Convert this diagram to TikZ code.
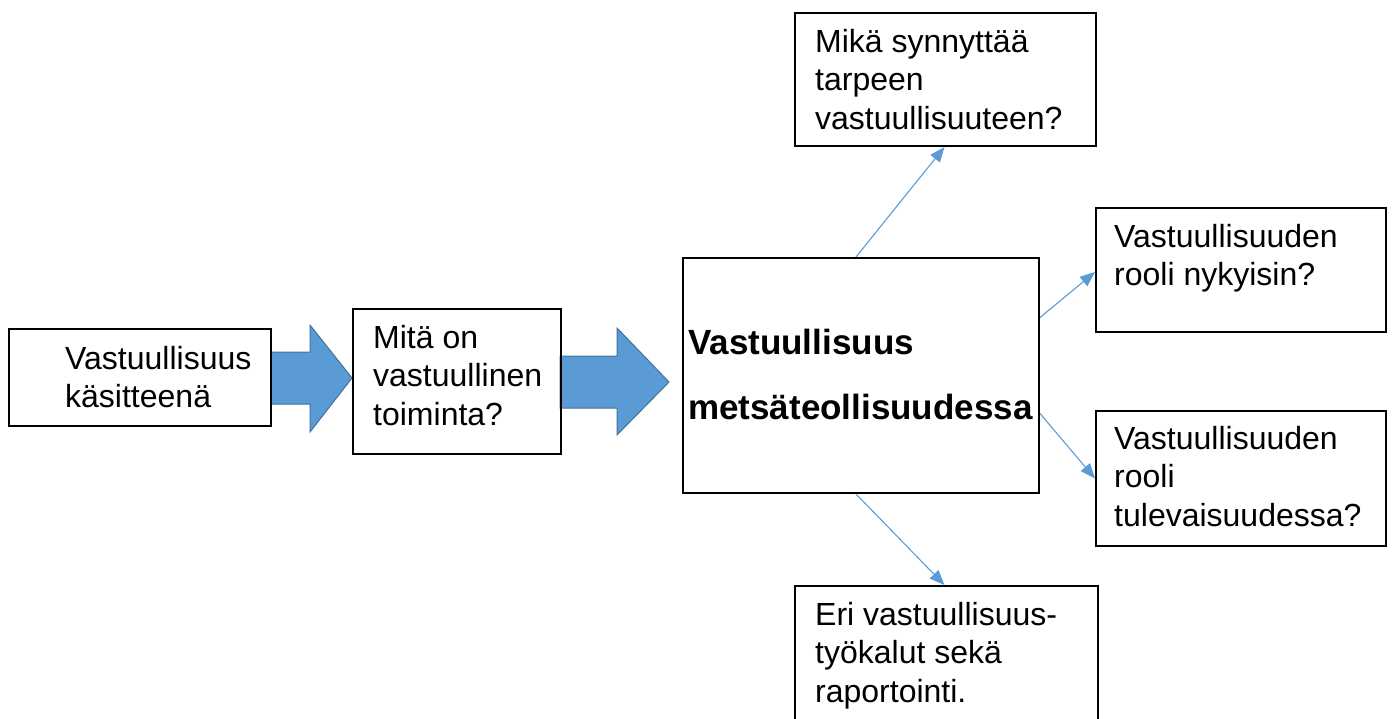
\documentclass[tikz,border=0pt]{standalone}
\usepackage{fontspec}
\setmainfont{Liberation Sans}
\usetikzlibrary{arrows.meta,calc}
\definecolor{fatblue}{HTML}{5B9BD5}
\definecolor{fatedge}{HTML}{41719C}
\definecolor{thinblue}{HTML}{5B9BD5}
\newcommand{\mlines}[1]{\begin{tabular}[t]{@{}l@{}}#1\end{tabular}}
\begin{document}
\begin{tikzpicture}[x=1pt,y=-1pt,
  box/.style={draw=black, line width=2pt, rectangle, inner sep=0pt, anchor=north west},
  txt/.style={anchor=base west, inner sep=0pt, font=\fontsize{32}{38.5}\selectfont},
  btxt/.style={anchor=base west, inner sep=0pt, font=\fontsize{35}{65}\selectfont\bfseries},
  conn/.style={draw=thinblue, line width=1.1pt, -{Triangle[length=15pt,width=12pt]}},
  fat/.style={fill=fatblue, draw=fatedge, line width=1pt, line join=miter}]
\useasboundingbox (0,0) rectangle (1393,718);
% fat block arrows
\draw[fat] (271,352) -- (310,352) -- (310,325) -- (352,378) -- (310,432) -- (310,404) -- (271,404) -- cycle;
\draw[fat] (560,356) -- (617,356) -- (617,328) -- (669,382) -- (617,435) -- (617,408) -- (560,408) -- cycle;
% boxes
\node[box, minimum width=262, minimum height=97] (b1) at (8,328) {};
\node[box, minimum width=208, minimum height=145] (b2) at (352,308) {};
\node[box, minimum width=356, minimum height=235] (c) at (682,257) {};
\node[box, minimum width=301, minimum height=133] (t) at (794,12) {};
\node[box, minimum width=290, minimum height=124] (r1) at (1095,207) {};
\node[box, minimum width=290, minimum height=135] (r2) at (1095,410) {};
\node[box, minimum width=303, minimum height=150] (b) at (794,585) {};
% texts
\node[txt] (t1) at (65,369) {\mlines{Vastuullisuus\\käsitteenä}};
\node[txt] (t2) at (373,348) {\mlines{Mitä on\\vastuullinen\\toiminta?}};
\node[btxt] (tc) at (688,354) {\mlines{Vastuullisuus\\metsäteollisuudessa}};
\node[txt] (tt) at (815,52) {\mlines{Mikä synnyttää\\tarpeen\\vastuullisuuteen?}};
\node[txt] (tr1) at (1114,247) {\mlines{Vastuullisuuden\\rooli nykyisin?}};
\node[txt] (tr2) at (1114,449) {\mlines{Vastuullisuuden\\rooli\\tulevaisuudessa?}};
\node[txt] (tb) at (815,625) {\mlines{Eri vastuullisuus-\\työkalut sekä\\raportointi.}};
% connectors
\draw[conn] ([xshift=-5pt]c.north) -- ([xshift=-1pt]t.south);
\draw[conn] ([yshift=58pt]c.east) -- ([yshift=-2pt]r1.west);
\draw[conn] ([yshift=-38pt]c.east) -- (r2.west);
\draw[conn] ([xshift=-5pt]c.south) -- ([xshift=-2pt]b.north);
\end{tikzpicture}
\end{document}
